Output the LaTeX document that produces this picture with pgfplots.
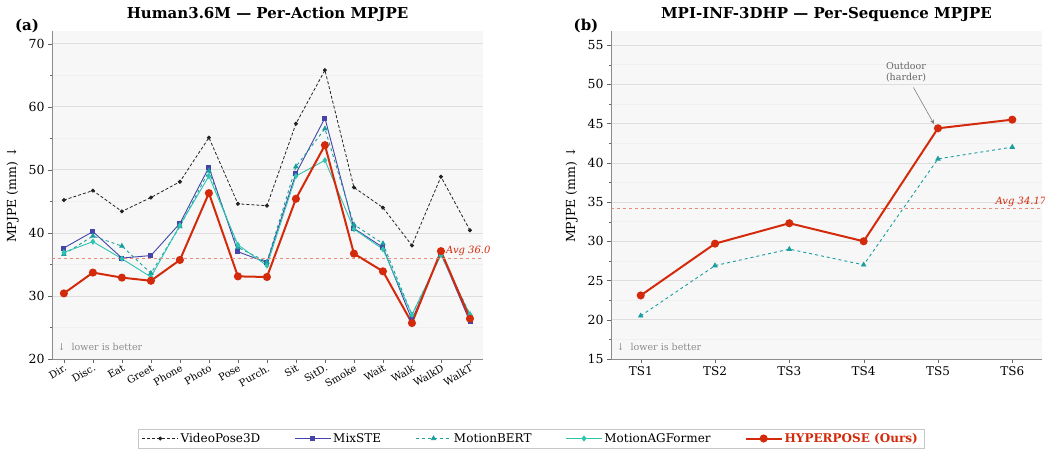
\documentclass[border=0pt]{standalone}
\usepackage{pgfplots}
\pgfplotsset{compat=1.18}
\usepackage{fontspec}
\setmainfont{DejaVu Serif}
\usetikzlibrary{arrows.meta}

\definecolor{cvp}{HTML}{222222}
\definecolor{cmix}{HTML}{4545A8}
\definecolor{cbert}{HTML}{1A9E9E}
\definecolor{cagf}{HTML}{2EC4B0}
\definecolor{chyp}{HTML}{D42A0C}
\definecolor{cbg}{HTML}{F7F7F7}

\pgfplotsset{
  panel/.style={
    scale only axis, width=431pt, height=328pt,
    anchor=south west,
    axis background/.style={fill=cbg},
    axis x line*=bottom, axis y line*=left,
    axis line style={draw=black!45},
    tick style={draw=black!60},
    tick align=outside,
    major tick length=4pt, minor tick length=2pt,
    ymajorgrids, yminorgrids, minor y tick num=1,
    major grid style={draw=black!13, line width=0.6pt},
    minor grid style={draw=black!6, line width=0.5pt},
    /pgf/number format/assume math mode=true,
    yticklabel style={font=\fontsize{12.5}{14}\selectfont},
    title style={font=\bfseries\fontsize{15}{17}\selectfont, at={(0.5,1)}, anchor=base, yshift=6pt, inner sep=0pt},
    ylabel={MPJPE (mm) ↓},
    ylabel style={font=\fontsize{12.5}{14}\selectfont, at={(axis description cs:-0.091,0.5)}, anchor=center},
    clip=false,
  },
}

\begin{document}
\begin{tikzpicture}
\path[use as bounding box] (0,0) rectangle (1045pt,449pt);

% ---------------- (a) Human3.6M
\begin{axis}[panel, at={(52pt,90pt)},
  title={Human3.6M — Per-Action MPJPE},
  xmin=-0.41, xmax=14.45, ymin=20, ymax=72,
  ytick={20,30,...,70},
  xtick={0,...,14},
  xticklabels={Dir.,Disc.,Eat,Greet,Phone,Photo,Pose,Purch.,Sit,SitD.,Smoke,Wait,Walk,WalkD,WalkT},
  xticklabel style={font=\fontsize{10}{12}\selectfont, rotate=30, anchor=north east, inner sep=0.5pt},
  legend columns=5,
  legend image code/.code={\draw[mark repeat=2,mark phase=2,#1] plot coordinates {(0pt,0pt) (18pt,0pt) (36pt,0pt)};},
  legend style={at={(1.111,-0.2424)}, anchor=center, draw=black!22, fill=white,
    font=\fontsize{12}{14}\selectfont, inner ysep=2pt, inner xsep=4pt,
    /tikz/every even column/.append style={column sep=32pt}},
  legend cell align=left,
]
\addplot[cvp, densely dashed, line width=0.8pt, mark=*, mark size=1.6pt, mark options={solid}] coordinates {
(0,45.2) (1,46.7) (2,43.4) (3,45.6) (4,48.1) (5,55.1) (6,44.6) (7,44.3)
(8,57.3) (9,65.8) (10,47.2) (11,44.0) (12,38.0) (13,48.9) (14,40.4)};
\addlegendentry{VideoPose3D}
\addplot[cmix, line width=0.9pt, mark=square*, mark size=2pt] coordinates {
(0,37.6) (1,40.2) (2,36.0) (3,36.4) (4,41.5) (5,50.4) (6,37.0) (7,35.3)
(8,49.4) (9,58.2) (10,40.7) (11,37.7) (12,26.2) (13,36.8) (14,25.9)};
\addlegendentry{MixSTE}
\addplot[cbert, dashed, line width=0.9pt, mark=triangle*, mark size=2.4pt, mark options={solid}] coordinates {
(0,36.6) (1,39.5) (2,37.9) (3,33.6) (4,41.0) (5,49.8) (6,37.7) (7,35.4)
(8,50.5) (9,56.5) (10,41.3) (11,38.3) (12,27.0) (13,36.5) (14,27.1)};
\addlegendentry{MotionBERT}
\addplot[cagf, line width=0.9pt, mark=diamond*, mark size=2.4pt] coordinates {
(0,36.9) (1,38.6) (2,35.9) (3,33.0) (4,41.2) (5,49.0) (6,38.1) (7,34.8)
(8,49.0) (9,51.5) (10,40.6) (11,37.4) (12,27.0) (13,36.5) (14,27.0)};
\addlegendentry{MotionAGFormer}
\addplot[chyp, line width=2pt, mark=*, mark size=3pt] coordinates {
(0,30.4) (1,33.7) (2,32.9) (3,32.4) (4,35.7) (5,46.3) (6,33.1) (7,33.0)
(8,45.4) (9,53.9) (10,36.7) (11,33.9) (12,25.7) (13,37.1) (14,26.4)};
\addlegendentry{\textcolor{chyp}{\textbf{HYPERPOSE (Ours)}}}
\addplot[chyp!55, dashed, line width=0.7pt, forget plot] coordinates {(-0.41,36.0) (14.45,36.0)};
\node[anchor=south west, text=chyp, font=\itshape\fontsize{10}{12}\selectfont, inner sep=1pt] at (axis cs:13.14,36.2) {Avg 36.0};
\node[anchor=west, text=black!45, font=\fontsize{9.5}{11}\selectfont] at (rel axis cs:0.005,0.037) {↓\ \ lower is better};
\node[anchor=base, font=\bfseries\fontsize{15}{17}\selectfont, inner sep=0pt] at (rel axis cs:-0.058,1.0) {(a)};
\end{axis}

% ---------------- (b) MPI-INF-3DHP
\begin{axis}[panel, at={(611pt,90pt)},
  title={MPI-INF-3DHP — Per-Sequence MPJPE},
  xmin=0.6, xmax=6.4, ymin=15, ymax=56.8,
  ytick={15,20,...,55},
  xtick={1,...,6},
  xticklabels={TS1,TS2,TS3,TS4,TS5,TS6},
  xticklabel style={font=\fontsize{12}{14}\selectfont},
]
\addplot[cbert, dashed, line width=0.9pt, mark=triangle*, mark size=2.4pt, mark options={solid}] coordinates {
(1,20.5) (2,26.9) (3,29.0) (4,27.0) (5,40.5) (6,42.0)};
\addplot[chyp, line width=2pt, mark=*, mark size=3pt] coordinates {
(1,23.1) (2,29.7) (3,32.3) (4,30.0) (5,44.4) (6,45.5)};
\addplot[chyp!55, dashed, line width=0.7pt] coordinates {(0.6,34.17) (6.4,34.17)};
\node[anchor=south west, text=chyp, font=\itshape\fontsize{10}{12}\selectfont, inner sep=1pt] at (axis cs:5.76,34.3) {Avg 34.17};
\node[anchor=west, text=black!45, font=\fontsize{9.5}{11}\selectfont] at (rel axis cs:0.005,0.037) {↓\ \ lower is better};
\node[align=left, text=black!60, font=\fontsize{9.5}{11}\selectfont] at (axis cs:4.57,51.5) {Outdoor\\(harder)};
\draw[-{Stealth[length=5pt]}, black!50, line width=0.6pt] (axis cs:4.67,49.6) -- (axis cs:4.95,44.9);
\node[anchor=base, font=\bfseries\fontsize{15}{17}\selectfont, inner sep=0pt] at (rel axis cs:-0.058,1.0) {(b)};
\end{axis}
\end{tikzpicture}
\end{document}
